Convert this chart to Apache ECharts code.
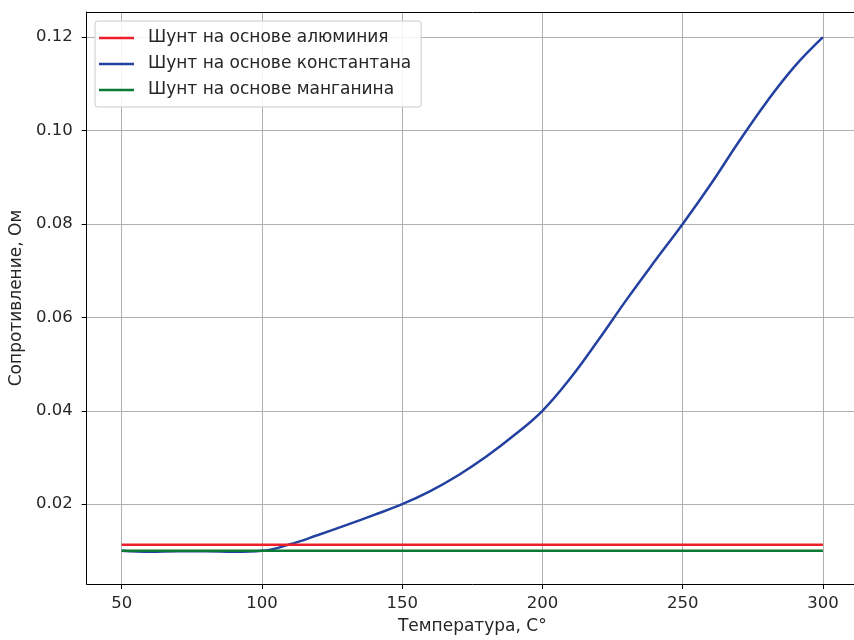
<!DOCTYPE html>
<html>
<head>
<meta charset="utf-8">
<script src="https://cdn.jsdelivr.net/npm/echarts@6/dist/echarts.min.js"></script>
<style>
  html, body { margin: 0; padding: 0; background: #fff; overflow: hidden; }
  #chart { width: 862px; height: 640px; }
</style>
</head>
<body>
<div id="chart"></div>
<script>
// Temperatures (C°)
const temps = [50, 60, 70, 80, 90, 100, 110, 120, 130, 140, 150, 160, 170, 180, 190, 200, 210, 220, 230, 240, 250, 260, 270, 280, 290, 300];
// Resistance of the constantan shunt, Ohm
const constantan = [0.0100, 0.0098, 0.0099, 0.0099, 0.0098, 0.0100, 0.0114, 0.0134, 0.0155, 0.0177, 0.0200, 0.0228, 0.0262, 0.0302, 0.0348, 0.0400, 0.0470, 0.0552, 0.0638, 0.0720, 0.0800, 0.0885, 0.0976, 0.1062, 0.1138, 0.1200];
const flatTemps = [50, 300];
const aluminium = [0.0113, 0.0113];
const manganin = [0.0100, 0.0100];

const xTicks = [50, 100, 150, 200, 250, 300];
const yTicks = [0.02, 0.04, 0.06, 0.08, 0.10, 0.12];

const seriesNames = [
  'Шунт на основе алюминия',
  'Шунт на основе константана',
  'Шунт на основе манганина'
];
const colors = ['#ea1f29', '#2341a0', '#0b7a34'];

const pairs = (xs, ys) => xs.map((x, i) => [x, ys[i]]);

const font = 'DejaVu Sans';
const textColor = '#262626';
const xMin = 37.5, xMax = 312.5;

const chart = echarts.init(document.getElementById('chart'), null, { renderer: 'canvas' });

chart.setOption({
  animation: false,
  backgroundColor: '#fff',
  textStyle: { fontFamily: font },
  color: colors,
  grid: { left: 86, top: 12, right: 4, bottom: 54 },
  legend: {
    orient: 'vertical',
    left: 95, top: 21,
    padding: [7, 10, 7, 4],
    backgroundColor: 'rgba(255,255,255,0.85)',
    borderColor: '#cccccc',
    borderWidth: 1,
    borderRadius: 3,
    icon: 'rect',
    itemWidth: 35,
    itemHeight: 2.5,
    itemGap: 6,
    textStyle: { fontFamily: font, fontSize: 17, color: textColor, lineHeight: 20, padding: [0, 0, 0, 9] },
    data: seriesNames
  },
  xAxis: [
    {
      type: 'value',
      min: xMin, max: xMax,
      name: 'Температура, С°',
      nameLocation: 'middle',
      nameGap: 34,
      nameTextStyle: { fontFamily: font, fontSize: 17, color: textColor },
      axisLine: { show: true, lineStyle: { color: '#000', width: 1 } },
      axisTick: { show: true, length: 5, lineStyle: { color: '#000' }, customValues: xTicks },
      axisLabel: { fontSize: 16.5, color: textColor, margin: 11, customValues: xTicks, formatter: v => String(v) },
      splitLine: { show: true, lineStyle: { color: '#b0b0b0', width: 1 } }
    },
    {
      // top spine only
      type: 'value', position: 'top',
      min: xMin, max: xMax,
      axisLine: { show: true, lineStyle: { color: '#000', width: 1 } },
      axisTick: { show: false }, axisLabel: { show: false }, splitLine: { show: false }
    }
  ],
  yAxis: {
    type: 'value',
    min: 0.0029, max: 0.1254,
    name: 'Сопротивление, Ом',
    nameLocation: 'middle',
    nameGap: 60,
    nameTextStyle: { fontFamily: font, fontSize: 17, color: textColor },
    axisLine: { show: true, lineStyle: { color: '#000', width: 1 } },
    axisTick: { show: true, length: 5, lineStyle: { color: '#000' }, customValues: yTicks },
    axisLabel: { fontSize: 16.5, color: textColor, margin: 14, customValues: yTicks, formatter: v => v.toFixed(2) },
    splitLine: { show: true, lineStyle: { color: '#b0b0b0', width: 1 } }
  },
  series: [
    {
      name: seriesNames[0], type: 'line', data: pairs(flatTemps, aluminium),
      showSymbol: false, lineStyle: { width: 2.5, color: colors[0] }, z: 3
    },
    {
      name: seriesNames[1], type: 'line', data: pairs(temps, constantan),
      smooth: 0.4, showSymbol: false, lineStyle: { width: 2.5, color: colors[1] }, z: 2
    },
    {
      name: seriesNames[2], type: 'line', data: pairs(flatTemps, manganin),
      showSymbol: false, lineStyle: { width: 2.5, color: colors[2] }, z: 4
    }
  ]
});
</script>
</body>
</html>
